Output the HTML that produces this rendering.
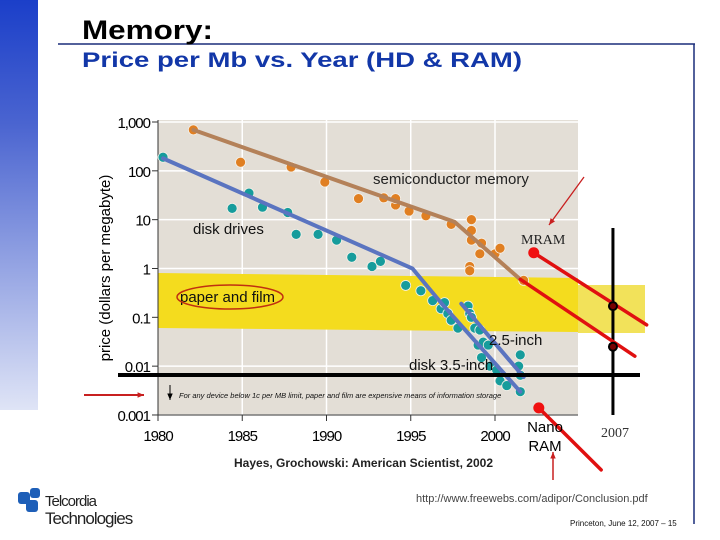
<!DOCTYPE html>
<html><head><meta charset="utf-8"><style>
body{margin:0;width:720px;height:540px;overflow:hidden;background:#fff;font-family:"Liberation Sans",sans-serif;position:relative}
#bar{position:absolute;left:0;top:0;width:38px;height:410px;background:linear-gradient(#1b3fc9,#4a64d0 30%,#dfe4f6 100%)}
svg{position:absolute;left:0;top:0}
</style></head><body>
<div id="bar"></div>
<svg id="s" width="720" height="540">
<line x1="58" y1="44" x2="695" y2="44" stroke="#1a2d7a" stroke-width="1.5"/>
<line x1="694" y1="44" x2="694" y2="524" stroke="#1a2d7a" stroke-width="1.5"/>
<text x="82" y="39" font-size="27" font-weight="bold" textLength="131" lengthAdjust="spacingAndGlyphs">Memory:</text>
<text x="82" y="67" font-size="21" font-weight="bold" fill="#1237a8" textLength="440" lengthAdjust="spacingAndGlyphs">Price per Mb vs. Year (HD &amp; RAM)</text>
<g id="g"></g>
</svg>
<script>
const yTicks=[1000,100,10,1,0.1,0.01,0.001];
const yTickLabels=["1,000","100","10","1","0.1","0.01","0.001"];
const xTicks=[1980,1985,1990,1995,2000];
const semiYears=[1982.1,1984.9,1987.9,1989.9,1991.9,1993.4,1994.1,1994.1,1994.9,1995.9,1997.4,1998.6,1998.6,1998.6,1999.2,1999.1,1998.5,1998.5,2000.0,2000.3,2001.7];
const semiVals=[690,150,120,59,27,28,20,27,15,12,8,10,6,3.8,3.3,2,1.1,0.9,2,2.6,0.57];
const diskYears=[1980.3,1984.4,1985.4,1986.2,1987.7,1988.2,1989.5,1990.6,1991.5,1992.7,1993.2];
const diskVals=[190,17,35,18,14,5,5,3.8,1.7,1.1,1.4];
const d35Years=[1994.7,1995.6,1996.3,1996.8,1997.0,1997.2,1997.4,1997.8,1999.0,1999.2,1999.7,2000.1,2000.3,2000.7];
const d35Vals=[0.45,0.35,0.22,0.15,0.2,0.12,0.087,0.06,0.027,0.015,0.010,0.0083,0.005,0.004];
const d25Years=[1998.4,1998.5,1998.6,1998.8,1999.1,1999.3,1999.6,2001.5,2001.4,2001.5,2001.5];
const d25Vals=[0.17,0.12,0.1,0.06,0.055,0.031,0.027,0.017,0.01,0.0065,0.003];
const semiLineYears=[1982.1,1997.6,2001.5];const semiLineVals=[690,9,0.6];
const diskLineYears=[1980.3,1995.1,1996.9,2001.5];const diskLineVals=[180,1.0,0.18,0.003];
const d25LineYears=[1998.0,2001.7];const d25LineVals=[0.19,0.006];
const semiProjYears=[2001.5,2008.3];const semiProjVals=[0.6,0.016];
const mramYears=[2002.3,2009];const mramVals=[2.1,0.07];
const nanoYears=[2002.6,2006.3];const nanoVals=[0.0014,0.000075];
const mark2007Vals=[0.17,0.025];

const X=y=>158+(y-1980)*16.85;
const Y=v=>122+(3-Math.log10(v))*48.83;
const g=document.getElementById('g');const NS='http://www.w3.org/2000/svg';
function el(t,a,p){const e=document.createElementNS(NS,t);for(const k in a)e.setAttribute(k,a[k]);(p||g).appendChild(e);return e;}
function txt(x,y,s,a){const e=el('text',Object.assign({x:x,y:y},a));e.textContent=s;return e;}

let e=el('rect',{x:158,y:120,width:420,height:295,fill:'#e3ded6'});

yTicks.forEach((v,i)=>{const l=el('line',{x1:158,x2:578,y1:Y(v),y2:Y(v),stroke:'#fff','stroke-width':1.5});
});
xTicks.slice(1).forEach(t=>{const l=el('line',{x1:X(t),x2:X(t),y1:120,y2:415,stroke:'#fff','stroke-width':1.5});
});
e=el('polygon',{points:'158,273 578,278 578,332 158,328',fill:'#f4dc1e'});

e=el('rect',{x:578,y:285,width:67,height:48,fill:'#f2e25a'});

el('line',{x1:158,x2:158,y1:120,y2:415,stroke:'#333'});el('line',{x1:158,x2:578,y1:415,y2:415,stroke:'#333'});
yTicks.forEach((v,i)=>{el('line',{x1:152,x2:158,y1:Y(v),y2:Y(v),stroke:'#333'});
const t=txt(150,Y(v)+6,yTickLabels[i],{'font-size':15,'text-anchor':'end','letter-spacing':'-1'});
});
xTicks.forEach(t=>{el('line',{x1:X(t),x2:X(t),y1:415,y2:421,stroke:'#333'});
const s=txt(X(t),441,t,{'font-size':15,'text-anchor':'middle','letter-spacing':'-1'});
});
e=txt(0,0,'price (dollars per megabyte)',{'font-size':15,transform:'translate(110,268) rotate(-90)','text-anchor':'middle'});


function line(ys,vs,col,w,name){const p=ys.map((y,i)=>X(y)+','+Y(vs[i])).join(' ');
const l=el('polyline',{points:p,fill:'none',stroke:col,'stroke-width':w,'stroke-linecap':'round'});
}
function dots(ys,vs,col,name){ys.forEach((y,i)=>{const c=el('circle',{cx:X(y),cy:Y(vs[i]),r:5,fill:col,stroke:'#f5f0e8','stroke-width':0.8});
});}
dots(semiYears,semiVals,'#e07f22','semi-point');
dots(diskYears,diskVals,'#169c9c','disk-point');
dots(d35Years,d35Vals,'#169c9c','disk35-point');
dots(d25Years,d25Vals,'#169c9c','disk25-point');
line(semiLineYears,semiLineVals,'#b48159',4,'semi-trend-line');
line(diskLineYears,diskLineVals,'#5a74c0',4,'disk-trend-line');
line(d25LineYears,d25LineVals,'#5a74c0',4,'disk25-trend-line');

e=el('line',{x1:118,x2:640,y1:375,y2:375,stroke:'#000','stroke-width':4});
e=el('line',{x1:X(2007),x2:X(2007),y1:228,y2:415,stroke:'#000','stroke-width':3});
line(semiProjYears,semiProjVals,'#e01010',3.5,'semi-projection');
line(mramYears,mramVals,'#e01010',3.5,'mram-projection');
line(nanoYears,nanoVals,'#e01010',3.5,'nanoram-projection');
[[mramYears[0],mramVals[0]],[nanoYears[0],nanoVals[0]]].forEach(p=>{const c=el('circle',{cx:X(p[0]),cy:Y(p[1]),r:5.5,fill:'#f01010'});
});
mark2007Vals.forEach(v=>{const c=el('circle',{cx:X(2007),cy:Y(v),r:4,fill:'#700',stroke:'#000','stroke-width':2});
});

function arrow(x1,y1,x2,y2,col,w,name){const l=el('line',{x1,y1,x2,y2,stroke:col,'stroke-width':w});

const a=Math.atan2(y2-y1,x2-x1),h=7;el('polygon',{points:`${x2},${y2} ${x2-h*Math.cos(a-0.4)},${y2-h*Math.sin(a-0.4)} ${x2-h*Math.cos(a+0.4)},${y2-h*Math.sin(a+0.4)}`,fill:col});}
arrow(584,177,549,225,'#c82020',1.3,'mram-arrow');
arrow(553,480,553,452,'#c82020',1.5,'nanoram-arrow');
arrow(84,395,144,395,'#c82020',2,'left-arrow');
arrow(170,385,170,400,'#000',1,'down-arrow');

const L=[[373,184,'semiconductor memory',15,'#222','semi-label'],[193,234,'disk drives',15,'#111','disk-label'],
[180,302,'paper and film',15,'#111','paper-label'],[489,345,'2.5-inch',15,'#111','disk25-label'],[409,370,'disk 3.5-inch',15,'#111','disk35-label'],
[234,467,'Hayes, Grochowski: American Scientist, 2002',12,'#222','source-label'],[416,502,'http://www.freewebs.com/adipor/Conclusion.pdf',11,'#444','url-label'],
[570,526,'Princeton, June 12, 2007 – 15',8,'#111','footer-label']];
L.forEach(l=>{const t=txt(l[0],l[1],l[2],{'font-size':l[3],fill:l[4]});if(l[5]==='source-label')t.setAttribute('font-weight','bold');
});
e=el('ellipse',{cx:230,cy:297,rx:53,ry:12,fill:'none',stroke:'#c03010','stroke-width':1.5});
e=txt(179,398,'For any device below 1c per MB limit,  paper and film are expensive means of  information storage',{'font-size':7.5,'font-style':'italic',fill:'#111'});

e=txt(521,244,'MRAM',{'font-size':14,'font-family':'Liberation Serif',fill:'#222'});
e=txt(601,437,'2007',{'font-size':14,'font-family':'Liberation Serif',fill:'#333'});
e=txt(545,432,'Nano',{'font-size':15,'text-anchor':'middle'});
e=txt(545,451,'RAM',{'font-size':15,'text-anchor':'middle'});
const lg=el('g',{});
el('rect',{x:18,y:492,width:12,height:12,fill:'#1e5fb8',rx:3},lg);el('rect',{x:26,y:500,width:12,height:12,fill:'#1e5fb8',rx:3},lg);el('rect',{x:30,y:488,width:10,height:10,fill:'#1e5fb8',rx:3},lg);
txt(45,506,'Telcordia',{'font-size':15,fill:'#222','letter-spacing':'-1'},lg);
txt(45,524,'Technologies',{'font-size':17,fill:'#222','letter-spacing':'-1'},lg);
</script>
</body></html>
